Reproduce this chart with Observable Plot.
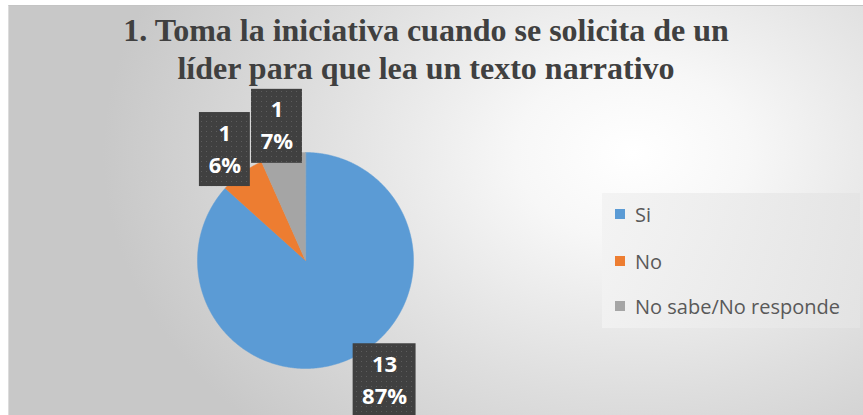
<!DOCTYPE html>
<html>
<head>
<meta charset="utf-8">
<script src="https://cdn.jsdelivr.net/npm/d3@7"></script>
<script src="https://cdn.jsdelivr.net/npm/@observablehq/plot@0.6"></script>
<style>
  html, body { margin: 0; padding: 0; background: #fff; }
  #wrap { position: relative; width: 863px; height: 415px; overflow: hidden; background: #fff; }
  #frame { position: absolute; left: 8px; top: 5px; width: 855px; height: 410px;
    border-top: 1px solid #c4c4c4; border-left: 1px solid #dcdcdc; box-sizing: border-box;
    background: radial-gradient(ellipse 62% 95% at 73% 36%, #ffffff 0%, #f7f7f7 22%, #dedede 62%, #c8c8c8 100%); }
  #chart { position: absolute; left: 0; top: 0; }
  #legend { position: absolute; left: 602px; top: 193px; width: 258px; height: 135px;
    background: linear-gradient(to right, rgba(242,242,242,0.85), rgba(228,228,228,0.85)); }
  .item { position: absolute; left: 13px; height: 24px; display: flex; align-items: center;
    font-family: "Open Sans", sans-serif; font-size: 20px; color: #595959; white-space: nowrap; }
  .sw { width: 10px; height: 10px; margin-right: 10px; }
</style>
</head>
<body>
<div id="wrap">
  <div id="frame"></div>
  <div id="chart"></div>
  <div id="legend"></div>
</div>
<script>
const categories = ["Si", "No", "No sabe/No responde"];
const values = [13, 1, 1];
const pctLabels = ["87%", "6%", "7%"];
const colors = ["#5b9bd5", "#ed7d31", "#a5a5a5"];
const titleLines = ["1. Toma la iniciativa cuando se solicita de un", "líder para que lea un texto narrativo"];

const total = d3.sum(values);
// slice polygons (angles clockwise from 12 o'clock)
const slicePts = [];
let acc = 0;
const mids = [];
values.forEach((v, i) => {
  const a0 = acc / total * 2 * Math.PI;
  const a1 = (acc + v) / total * 2 * Math.PI;
  acc += v;
  mids.push((a0 + a1) / 2);
  slicePts.push({cat: categories[i], x: 0, y: 0});
  const n = Math.max(2, Math.ceil((a1 - a0) / (Math.PI / 360)));
  for (let k = 0; k <= n; k++) {
    const a = a0 + (a1 - a0) * k / n;
    slicePts.push({cat: categories[i], x: Math.sin(a), y: Math.cos(a)});
  }
});

// label boxes
const pxPerUnit = 108;
const ctx = document.createElement("canvas").getContext("2d");
ctx.font = "bold 21px 'Open Sans'";
const labelR = 1.27;
const nudge = [[22 / pxPerUnit, 8 / pxPerUnit], [0, 0], [0, 0]];
const labels = values.map((v, i) => {
  const w = Math.max(ctx.measureText(String(v)).width, ctx.measureText(pctLabels[i]).width) + 20;
  const r = i === 0 ? 1.3 : labelR;
  const cx = Math.sin(mids[i]) * r + nudge[i][0];
  const cy = Math.cos(mids[i]) * r + nudge[i][1];
  const hw = w / 2 / pxPerUnit, hh = 37 / pxPerUnit;
  return {cat: categories[i], value: String(v), pct: pctLabels[i], cx, cy,
          x1: cx - hw, x2: cx + hw, y1: cy - hh, y2: cy + hh};
});

const plot = Plot.plot({
  width: 863,
  height: 415,
  margin: 0,
  style: {background: "transparent", overflow: "hidden"},
  x: {domain: [-1, 1], range: [197, 413], axis: null},
  y: {domain: [-1, 1], range: [368, 152], axis: null},
  color: {domain: categories, range: colors},
  marks: [
    Plot.line(slicePts, {x: "x", y: "y", z: "cat", fill: "cat", stroke: "cat", strokeWidth: 0.5, curve: "linear-closed"}),
    Plot.rect(labels, {x1: "x1", x2: "x2", y1: "y1", y2: "y2", fill: "#404040", ariaLabel: "labelbox"}),
    Plot.rect(labels, {x1: "x1", x2: "x2", y1: "y1", y2: "y2", fill: "url(#dots)", ariaLabel: "labeldots"}),
    Plot.text(labels, {x: "cx", y: "cy", text: "value", dy: -16, fill: "white", fontSize: 22, fontWeight: "bold", fontFamily: "Open Sans"}),
    Plot.text(labels, {x: "cx", y: "cy", text: "pct", dy: 16, fill: "white", fontSize: 22, fontWeight: "bold", fontFamily: "Open Sans"}),
    Plot.text([titleLines.join("\n")], {frameAnchor: "top", dx: -6, dy: 13, fill: "#404040", fontSize: 32, fontWeight: "bold",
      fontFamily: "Liberation Serif", lineHeight: 1.2})
  ]
});

// pattern + shadow
const ns = "http://www.w3.org/2000/svg";
const defs = document.createElementNS(ns, "defs");
defs.innerHTML = '<pattern id="dots" width="5" height="5" patternUnits="userSpaceOnUse"><rect x="1" y="1" width="1" height="1" fill="#5c5c5c"/></pattern>';
plot.insertBefore(defs, plot.firstChild);
const boxG = plot.querySelector('g[aria-label="labelbox"]');
if (boxG) boxG.style.filter = "drop-shadow(3px 3px 2px rgba(0,0,0,0.35))";
document.getElementById("chart").appendChild(plot);

// legend
const legend = document.getElementById("legend");
const tops = [9, 56, 101];
categories.forEach((c, i) => {
  const it = document.createElement("div");
  it.className = "item";
  it.style.top = tops[i] + "px";
  const sw = document.createElement("span");
  sw.className = "sw";
  sw.style.background = colors[i];
  it.appendChild(sw);
  it.appendChild(document.createTextNode(c));
  legend.appendChild(it);
});
</script>
</body>
</html>
